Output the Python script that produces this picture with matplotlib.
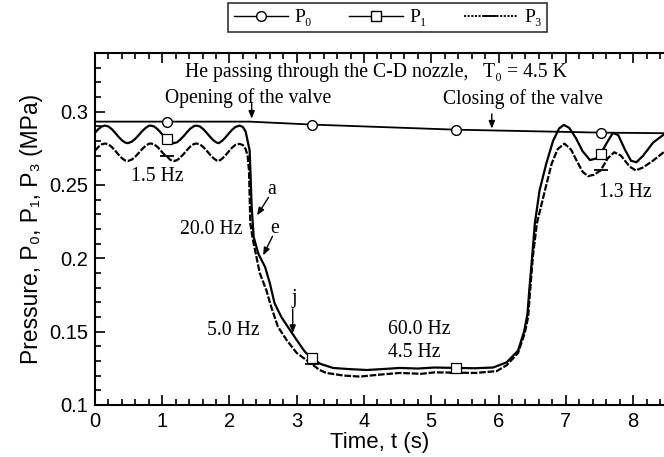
import numpy as np
import matplotlib
matplotlib.use("Agg")
import matplotlib.pyplot as plt
from matplotlib.lines import Line2D
from matplotlib.ticker import MultipleLocator

# ---------------- data ----------------
p0_t = [0.00, 1.07, 2.30, 3.22, 5.37, 7.52, 8.46]
p0_v = [0.2932, 0.2932, 0.2932, 0.2912, 0.2877, 0.2857, 0.2853]

p1_t = [0.00, 0.05, 0.10, 0.15, 0.20, 0.25, 0.30, 0.35, 0.40, 0.45, 0.49, 0.55,
        0.60, 0.65, 0.70, 0.75, 0.80, 0.83, 0.88, 0.93, 0.98, 1.03, 1.07, 1.12,
        1.17, 1.22, 1.27, 1.32, 1.37, 1.42, 1.47, 1.51, 1.56, 1.61, 1.66, 1.71,
        1.76, 1.81, 1.84, 1.89, 1.94, 1.99, 2.04, 2.09, 2.15, 2.20, 2.24, 2.27,
        2.30, 2.33, 2.36, 2.43, 2.53, 2.60, 2.67, 2.77, 2.90, 3.00, 3.12, 3.22,
        3.35, 3.54, 3.75, 4.04, 4.30, 4.53, 4.80, 5.05, 5.37, 5.65, 5.92, 6.12,
        6.29, 6.38, 6.43, 6.46, 6.50, 6.54, 6.61, 6.71, 6.81, 6.90, 6.97, 7.05,
        7.15, 7.25, 7.36, 7.45, 7.52, 7.60, 7.70, 7.78, 7.88, 7.97, 8.05, 8.15,
        8.30, 8.46]
p1_v = [0.2856, 0.2881, 0.2899, 0.2905, 0.2899, 0.2881, 0.2856, 0.2829, 0.2805, 0.2789, 0.2785, 0.2796,
        0.2815, 0.2840, 0.2866, 0.2888, 0.2903, 0.2905, 0.2899, 0.2881, 0.2856, 0.2829, 0.2815, 0.2793,
        0.2785, 0.2791, 0.2810, 0.2834, 0.2861, 0.2885, 0.2901, 0.2905, 0.2899, 0.2881, 0.2856, 0.2829,
        0.2805, 0.2789, 0.2785, 0.2801, 0.2824, 0.2851, 0.2877, 0.2896, 0.2905, 0.2895, 0.2865, 0.2800,
        0.2735, 0.2350, 0.2145, 0.2030, 0.1940, 0.1830, 0.1694, 0.1600, 0.1510, 0.1442, 0.1363, 0.1320,
        0.1280, 0.1252, 0.1245, 0.1238, 0.1245, 0.1252, 0.1248, 0.1255, 0.1252, 0.1250, 0.1255, 0.1290,
        0.1370, 0.1500, 0.1620, 0.1800, 0.2010, 0.2238, 0.2463, 0.2646, 0.2800, 0.2885, 0.2910, 0.2890,
        0.2820, 0.2730, 0.2670, 0.2680, 0.2712, 0.2780, 0.2855, 0.2840, 0.2740, 0.2665, 0.2655, 0.2700,
        0.2790, 0.2845]

p3_t = [0.00, 0.05, 0.10, 0.15, 0.20, 0.25, 0.30, 0.35, 0.40, 0.45, 0.49, 0.55,
        0.60, 0.65, 0.70, 0.75, 0.80, 0.83, 0.88, 0.93, 0.98, 1.03, 1.07, 1.12,
        1.17, 1.22, 1.27, 1.32, 1.37, 1.42, 1.47, 1.51, 1.56, 1.61, 1.66, 1.71,
        1.76, 1.81, 1.84, 1.89, 1.94, 1.99, 2.04, 2.09, 2.15, 2.20, 2.24, 2.27,
        2.29, 2.31, 2.35, 2.45, 2.55, 2.62, 2.72, 2.85, 3.00, 3.22, 3.34, 3.44,
        3.70, 3.94, 4.20, 4.53, 4.85, 5.05, 5.37, 5.65, 5.97, 6.12, 6.29, 6.39,
        6.44, 6.47, 6.51, 6.57, 6.69, 6.79, 6.88, 6.98, 7.08, 7.16, 7.25, 7.33,
        7.42, 7.52, 7.62, 7.72, 7.82, 7.95, 8.04, 8.15, 8.30, 8.46]
p3_v = [0.2734, 0.2759, 0.2777, 0.2783, 0.2777, 0.2759, 0.2734, 0.2707, 0.2683, 0.2667, 0.2663, 0.2674,
        0.2693, 0.2718, 0.2744, 0.2766, 0.2781, 0.2783, 0.2777, 0.2759, 0.2734, 0.2707, 0.2696, 0.2671,
        0.2663, 0.2669, 0.2688, 0.2712, 0.2739, 0.2763, 0.2779, 0.2783, 0.2777, 0.2759, 0.2734, 0.2707,
        0.2683, 0.2667, 0.2663, 0.2679, 0.2702, 0.2729, 0.2755, 0.2774, 0.2780, 0.2772, 0.2745, 0.2700,
        0.2600, 0.2238, 0.2122, 0.1900, 0.1780, 0.1669, 0.1533, 0.1442, 0.1354, 0.1280, 0.1238, 0.1218,
        0.1200, 0.1193, 0.1205, 0.1218, 0.1212, 0.1222, 0.1220, 0.1218, 0.1230, 0.1270, 0.1354, 0.1490,
        0.1600, 0.1780, 0.2010, 0.2238, 0.2463, 0.2646, 0.2745, 0.2782, 0.2740, 0.2667, 0.2590, 0.2560,
        0.2570, 0.2600, 0.2680, 0.2723, 0.2700, 0.2625, 0.2599, 0.2620, 0.2667, 0.2725]

marker_times = [1.07, 3.22, 5.37, 7.52]
series_labels = ["P\u2080", "P\u2081", "P\u2083"]

# ---------------- figure ----------------
serif = ["Liberation Serif", "DejaVu Serif"]
sans = ["Liberation Sans", "DejaVu Sans"]
plt.rcParams["font.family"] = sans

fig = plt.figure(figsize=(6.64, 4.57), dpi=100)
ax = fig.add_axes([0.143, 0.114, 0.857, 0.770])

def mk_idx(ts):
    return [int(np.argmin(np.abs(np.array(ts) - m))) for m in marker_times]

ax.plot(p0_t, p0_v, color="black", lw=1.3, marker="o", ms=7, mfc="white",
        mec="black", mew=1.0, markevery=mk_idx(p0_t), zorder=3)
ax.plot(p1_t, p1_v, color="black", lw=1.6, marker="s", ms=7, mfc="white",
        mec="black", mew=0.9, markevery=mk_idx(p1_t), zorder=4)
ax.plot(p3_t, p3_v, color="black", lw=1.6, ls=(0, (3.0, 0.8)), marker="_", ms=10,
        mew=1.3, markevery=mk_idx(p3_t), zorder=2)

ax.set_xlim(0, 8.46)
ax.set_ylim(0.1, 0.34)
ax.xaxis.set_major_locator(MultipleLocator(1))
ax.xaxis.set_minor_locator(MultipleLocator(0.2))
ax.yaxis.set_minor_locator(MultipleLocator(0.01))
ax.set_yticks([0.1, 0.15, 0.2, 0.25, 0.3])
ax.set_yticklabels(["0.1", "0.15", "0.2", "0.25", "0.3"])
ax.tick_params(which="both", direction="in", top=True, right=False, width=1.2)
ax.tick_params(which="major", length=7, labelsize=14.5, pad=5)
ax.tick_params(which="minor", length=4)
ax.spines["right"].set_visible(False)
for s in ["left", "bottom", "top"]:
    ax.spines[s].set_linewidth(1.5)

ax.set_xlabel("Time, t (s)", fontsize=16, labelpad=1)
ax.set_ylabel("Pressure, P\u2080, P\u2081, P\u2083 (MPa)", fontsize=16.5, labelpad=4)

tfs = 14.2
ax.text(4.18, 0.3267, "He passing through the C-D nozzle,   T\u2080 = 4.5 K",
        family=serif, fontsize=tfs, ha="center", va="center")
ax.text(2.27, 0.3095, "Opening of the valve", family=serif, fontsize=tfs,
        ha="center", va="center")
ax.text(6.36, 0.3085, "Closing of the valve", family=serif, fontsize=tfs,
        ha="center", va="center")
ax.text(0.92, 0.2558, "1.5 Hz", family=serif, fontsize=tfs, ha="center", va="center")
ax.text(7.88, 0.2449, "1.3 Hz", family=serif, fontsize=tfs, ha="center", va="center")
ax.text(1.73, 0.2197, "20.0 Hz", family=serif, fontsize=tfs, ha="center", va="center")
ax.text(2.05, 0.151, "5.0 Hz", family=serif, fontsize=tfs, ha="center", va="center")
ax.text(4.36, 0.1517, "60.0 Hz", family=serif, fontsize=tfs, ha="left", va="center")
ax.text(4.36, 0.1354, "4.5 Hz", family=serif, fontsize=tfs, ha="left", va="center")

arr = dict(arrowstyle="-|>,head_length=0.45,head_width=0.18", color="black", lw=1.0,
           shrinkA=0, shrinkB=0)
ax.annotate("", xy=(2.33, 0.2952), xytext=(2.33, 0.3055), arrowprops=arr)
ax.annotate("", xy=(5.90, 0.2884), xytext=(5.90, 0.2985), arrowprops=arr)
ax.annotate("", xy=(2.41, 0.2293), xytext=(2.58, 0.2415), arrowprops=arr)
ax.text(2.63, 0.2469, "a", family=serif, fontsize=tfs, ha="center", va="center")
ax.annotate("", xy=(2.50, 0.2020), xytext=(2.64, 0.2150), arrowprops=arr)
ax.text(2.67, 0.2204, "e", family=serif, fontsize=tfs, ha="center", va="center")
ax.annotate("", xy=(2.94, 0.1490), xytext=(2.94, 0.1655), arrowprops=arr)
ax.text(2.96, 0.1728, "j", family=serif, fontsize=tfs, ha="center", va="center")

handles = [
    Line2D([], [], color="black", lw=1.0, marker="o", ms=7, mfc="white", mec="black"),
    Line2D([], [], color="black", lw=1.0, marker="s", ms=7, mfc="white", mec="black"),
    Line2D([], [], color="black", lw=1.3, ls=(0, (1.2, 0.8)), marker="_", ms=10, mew=1.3),
]
leg = fig.legend(handles, series_labels, loc="upper center", bbox_to_anchor=(0.584, 1.0),
                 ncol=3, frameon=True, fancybox=False, edgecolor="black",
                 prop={"family": serif, "size": 14}, handlelength=2.8,
                 columnspacing=1.9, handletextpad=0.3, borderpad=0.3,
                 borderaxespad=0.15)
leg.get_frame().set_linewidth(1.2)

fig.savefig("out.png", dpi=100)
